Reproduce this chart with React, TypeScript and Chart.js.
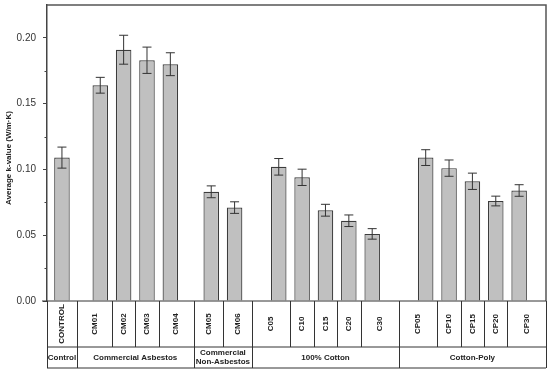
import React, { useEffect, useRef } from "react";
import { Chart, registerables } from "chart.js";

Chart.register(...registerables);

// ---- data ----
const categories = ["CONTROL", "CM01", "CM02", "CM03", "CM04", "CM05", "CM06", "C05", "C10", "C15", "C20", "C30", "CP05", "CP10", "CP15", "CP20", "CP30"];
const kValues = [0.109, 0.164, 0.191, 0.183, 0.180, 0.083, 0.071, 0.102, 0.094, 0.069, 0.061, 0.051, 0.109, 0.101, 0.091, 0.076, 0.084];
const kErrors = [0.008, 0.006, 0.011, 0.010, 0.0087, 0.0045, 0.0044, 0.0063, 0.0062, 0.0045, 0.0044, 0.004, 0.006, 0.0062, 0.0062, 0.0037, 0.0044];
const groupNames = ["Control", "Commercial Asbestos", "Commercial\nNon-Asbestos", "100% Cotton", "Cotton-Poly"];
const groupSizes = [1, 4, 2, 5, 5];
const yTicks = [0, 0.05, 0.1, 0.15, 0.2];
const yMinorTicks = [0.025, 0.075, 0.125, 0.175];
const yTitle = "Average k-value (W/m\u00B7K)";

// ---- layout (slot units) ----
const GROUP_PAD = [0.14, 0.5, 0.25, 0.64, 0.65];
const FONT = "'Liberation Sans', Arial, sans-serif";

const barX: number[] = [];
const groupEdges: number[] = [0];
const cellBounds: [number, number][] = [];
let cursor = 0;
groupSizes.forEach((n, g) => {
  const gStart = cursor;
  cursor += GROUP_PAD[g];
  const local: number[] = [];
  for (let i = 0; i < n; i++) {
    local.push(cursor + 0.5);
    barX.push(cursor + 0.5);
    cursor += 1;
  }
  cursor += GROUP_PAD[g];
  const gEnd = cursor;
  local.forEach((x, i) => {
    const a = i === 0 ? gStart : x - 0.5;
    const b = i === n - 1 ? gEnd : x + 0.5;
    cellBounds.push([a, b]);
  });
  groupEdges.push(cursor);
});
const xMax = cursor;

const decorPlugin = {
  id: "decor",
  afterDatasetsDraw(chart: any) {
    const { ctx, chartArea, scales } = chart;
    const xs = scales.x;
    const ys = scales.y;
    const L = chartArea.left, R = chartArea.right, T = chartArea.top, B = chartArea.bottom;
    ctx.save();
    // error bars
    ctx.strokeStyle = "#333";
    ctx.lineWidth = 1;
    kValues.forEach((v, i) => {
      const px = xs.getPixelForValue(barX[i]);
      const yTop = ys.getPixelForValue(v + kErrors[i]);
      const yBot = ys.getPixelForValue(v - kErrors[i]);
      ctx.beginPath();
      ctx.moveTo(px, yTop);
      ctx.lineTo(px, yBot);
      ctx.moveTo(px - 4.5, yTop);
      ctx.lineTo(px + 4.5, yTop);
      ctx.moveTo(px - 4.5, yBot);
      ctx.lineTo(px + 4.5, yBot);
      ctx.stroke();
    });
    // frame
    ctx.strokeStyle = "#555";
    ctx.lineWidth = 1.5;
    ctx.beginPath();
    ctx.moveTo(L, T);
    ctx.lineTo(R, T);
    ctx.lineTo(R, B);
    ctx.stroke();
    // minor ticks
    ctx.strokeStyle = "#444";
    ctx.lineWidth = 1;
    yMinorTicks.forEach((v) => {
      const py = Math.round(ys.getPixelForValue(v)) + 0.5;
      ctx.beginPath();
      ctx.moveTo(L - 2.5, py);
      ctx.lineTo(L, py);
      ctx.stroke();
    });
    // table
    const rowMid = B + 46;
    const rowEnd = B + 67;
    ctx.strokeStyle = "#333";
    ctx.lineWidth = 1;
    ctx.beginPath();
    ctx.moveTo(L - 5, B);
    ctx.lineTo(R, B);
    ctx.moveTo(L, rowMid);
    ctx.lineTo(R, rowMid);
    ctx.moveTo(L, rowEnd);
    ctx.lineTo(R, rowEnd);
    ctx.stroke();
    groupEdges.forEach((e) => {
      const px = Math.round(xs.getPixelForValue(e)) + 0.5;
      ctx.beginPath();
      ctx.moveTo(px, B);
      ctx.lineTo(px, rowEnd);
      ctx.stroke();
    });
    cellBounds.forEach(([a, b], i) => {
      if (i < cellBounds.length - 1) {
        const px = Math.round(xs.getPixelForValue(b)) + 0.5;
        ctx.beginPath();
        ctx.moveTo(px, B);
        ctx.lineTo(px, rowMid);
        ctx.stroke();
      }
    });
    // category labels
    ctx.fillStyle = "#222";
    ctx.font = `bold 8px ${FONT}`;
    ctx.textAlign = "center";
    ctx.textBaseline = "middle";
    categories.forEach((c, i) => {
      const [a, b] = cellBounds[i];
      const cx = (xs.getPixelForValue(a) + xs.getPixelForValue(b)) / 2;
      const cy = (B + rowMid) / 2;
      ctx.save();
      ctx.translate(cx, cy);
      ctx.rotate(-Math.PI / 2);
      ctx.fillText(c, 0, 0);
      ctx.restore();
    });
    // group labels
    groupNames.forEach((g, i) => {
      const cx = (xs.getPixelForValue(groupEdges[i]) + xs.getPixelForValue(groupEdges[i + 1])) / 2;
      const lines = g.split("\n");
      const lh = 8.5;
      const cy = (rowMid + rowEnd) / 2 - ((lines.length - 1) * lh) / 2;
      lines.forEach((ln, k) => ctx.fillText(ln, cx, cy + k * lh));
    });
    // y title
    ctx.save();
    ctx.translate(9, 158);
    ctx.rotate(-Math.PI / 2);
    ctx.fillText(yTitle, 0, 0);
    ctx.restore();
    ctx.restore();
  },
};

export default function App() {
  const ref = useRef<HTMLCanvasElement | null>(null);
  useEffect(() => {
    if (!ref.current) return;
    const chart = new Chart(ref.current, {
      type: "bar",
      data: {
        datasets: [
          {
            data: barX.map((x, i) => ({ x, y: kValues[i] })),
            backgroundColor: "#c0c0c0",
            borderColor: "#3c3c3c",
            borderWidth: 1.2,
            categoryPercentage: 1,
            barPercentage: 0.665,
          },
        ],
      },
      options: {
        animation: false,
        responsive: false,
        devicePixelRatio: 1,
        layout: { padding: { top: 5, right: 4, bottom: 73, left: 0 } },
        plugins: { legend: { display: false }, tooltip: { enabled: false } },
        scales: {
          x: {
            type: "linear",
            min: 0,
            max: xMax,
            offset: false,
            display: false,
            ticks: { stepSize: 5 },
          },
          y: {
            min: 0,
            max: 0.225,
            position: "left",
            afterBuildTicks: (s: any) => {
              s.ticks = yTicks.map((v) => ({ value: v }));
            },
            afterFit: (s: any) => {
              s.width = 47;
              s.paddingTop = 0;
              s.paddingBottom = 0;
            },
            ticks: {
              padding: 7,
              color: "#333",
              font: { family: FONT, size: 10 },
              callback: (v: any) => Number(v).toFixed(2),
            },
            grid: { drawOnChartArea: false, drawTicks: true, tickLength: 4, color: "#444", lineWidth: 1 },
            border: { color: "#444", width: 1.5 },
          },
        },
      },
      plugins: [decorPlugin],
    } as any);
    return () => chart.destroy();
  }, []);
  return (
    <div style={{ position: "fixed", left: 0, top: 0, width: 550, height: 374, background: "#fff" }}>
      <canvas ref={ref} width={550} height={374} style={{ display: "block" }} />
    </div>
  );
}
